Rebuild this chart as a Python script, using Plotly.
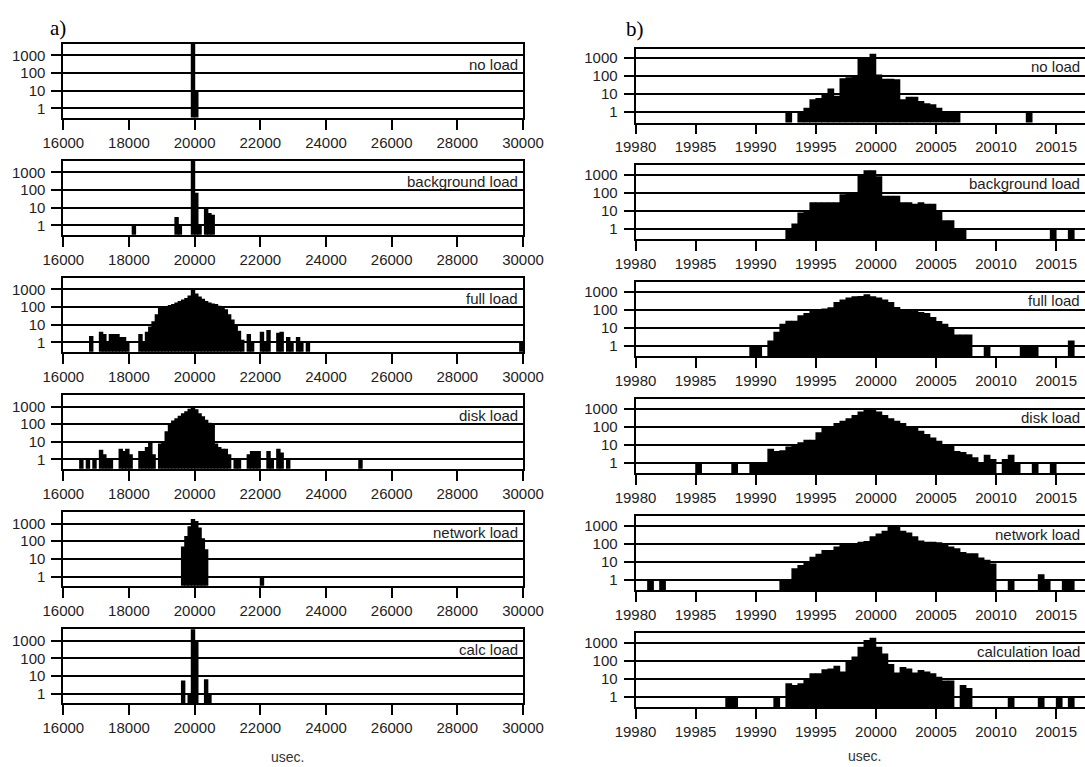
import plotly.graph_objects as go

# ---------------- data: left column (a), 100 usec bins, x = bin start ----------------
a_no_x = [19900, 20000]
a_no_y = [5000, 9]

a_bg_x = [18100, 19400, 19500, 19900, 20000, 20100, 20300, 20400, 20500]
a_bg_y = [1, 3, 1, 5000, 70, 1, 10, 5, 4]

a_full_x = [16800, 17100, 17200, 17300, 17400, 17500, 17600, 17700, 17800, 17900,
            18300, 18400, 18500, 18600, 18700, 18800, 18900, 19000, 19100, 19200,
            19300, 19400, 19500, 19600, 19700, 19800, 19900, 20000, 20100, 20200,
            20300, 20400, 20500, 20600, 20700, 20800, 20900, 21000, 21100, 21200,
            21300, 21400, 21600, 21700, 22000, 22100, 22200, 22500, 22600, 22800,
            22900, 23100, 23200, 23400, 29900]
a_full_y = [2.3, 4, 3, 1, 3, 3, 3, 2, 2, 1,
            3, 1, 4, 8, 16, 40, 100, 105, 110, 130,
            150, 180, 220, 270, 330, 450, 950, 600, 400, 300,
            220, 180, 160, 150, 120, 110, 75, 40, 20, 10,
            4.5, 1.4, 3, 1, 4, 1, 5, 3.5, 4, 2,
            1, 2, 1, 1, 1]

a_disk_x = [16500, 16700, 16900, 17100, 17200, 17300, 17400, 17700, 17800, 17900,
            18000, 18300, 18400, 18500, 18600, 18700, 18900, 19000, 19100, 19200,
            19300, 19400, 19500, 19600, 19700, 19800, 19900, 20000, 20100, 20200,
            20300, 20400, 20500, 20600, 20700, 20800, 20900, 21000, 21200, 21300,
            21600, 21700, 21800, 21900, 22200, 22300, 22500, 22600, 22800, 25000]
a_disk_y = [1, 1, 1, 3.5, 2, 1, 1, 4, 3, 4,
            2, 3, 3, 5, 9, 2, 8, 9, 40, 100,
            160, 220, 300, 420, 550, 750, 1000, 700, 420, 280,
            180, 120, 90, 8, 5, 4, 4, 2, 1, 1,
            2, 3, 3, 3, 3, 1, 4, 2.5, 1, 1]

a_net_x = [19600, 19700, 19800, 19900, 20000, 20100, 20200, 20300, 22000]
a_net_y = [50, 200, 700, 1800, 1400, 600, 150, 35, 1]

a_calc_x = [19600, 19800, 19900, 20000, 20300, 20400]
a_calc_y = [5.5, 1, 5000, 1000, 6.5, 1]

# ---------------- data: right column (b), 0.5 usec bins, x = bin start ----------------
b_no_x = [19992.5, 19993.5, 19994.0, 19994.5, 19995.0, 19995.5, 19996.0, 19996.5,
          19997.0, 19997.5, 19998.0, 19998.5, 19999.0, 19999.5, 20000.0, 20000.5,
          20001.0, 20001.5, 20002.0, 20002.5, 20003.0, 20003.5, 20004.0, 20004.5,
          20005.0, 20005.5, 20006.0, 20006.5, 20012.5]
b_no_y = [1, 1, 1.7, 5, 6, 11, 20, 8,
          75, 85, 90, 1000, 1100, 1700, 120, 70,
          70, 65, 5, 7, 7, 4, 3, 2.7,
          1.7, 1, 1, 1, 1]

b_bg_x = [19992.5, 19993.0, 19993.5, 19994.0, 19994.5, 19995.0, 19995.5, 19996.0,
          19996.5, 19997.0, 19997.5, 19998.0, 19998.5, 19999.0, 19999.5, 20000.0,
          20000.5, 20001.0, 20001.5, 20002.0, 20002.5, 20003.0, 20003.5, 20004.0,
          20004.5, 20005.0, 20005.5, 20006.0, 20006.5, 20007.0, 20014.5, 20016.0]
b_bg_y = [1, 2, 8, 10, 30, 30, 30, 30,
          30, 85, 105, 105, 1000, 1800, 1800, 850,
          70, 70, 70, 30, 30, 25, 30, 25,
          25, 9, 3, 3, 1, 1, 1, 1]

b_full_x = [19989.5, 19990.0, 19991.0, 19991.5, 19992.0, 19992.5, 19993.0, 19993.5,
            19994.0, 19994.5, 19995.0, 19995.5, 19996.0, 19996.5, 19997.0, 19997.5,
            19998.0, 19998.5, 19999.0, 19999.5, 20000.0, 20000.5, 20001.0, 20001.5,
            20002.0, 20002.5, 20003.0, 20003.5, 20004.0, 20004.5, 20005.0, 20005.5,
            20006.0, 20006.5, 20007.0, 20007.5, 20009.0, 20012.0, 20012.5, 20013.0,
            20016.0]
b_full_y = [1, 1, 2, 6, 17, 25, 25, 50,
            67, 95, 110, 120, 140, 270, 370, 480,
            560, 580, 730, 570, 480, 370, 270, 145,
            107, 100, 87, 75, 67, 40, 24, 17,
            11, 4.3, 4.3, 4.3, 1, 1, 1, 1,
            2]

b_disk_x = [19985.0, 19988.0, 19989.5, 19990.0, 19990.5, 19991.0, 19991.5, 19992.0,
            19992.5, 19993.0, 19993.5, 19994.0, 19994.5, 19995.0, 19995.5, 19996.0,
            19996.5, 19997.0, 19997.5, 19998.0, 19998.5, 19999.0, 19999.5, 20000.0,
            20000.5, 20001.0, 20001.5, 20002.0, 20002.5, 20003.0, 20003.5, 20004.0,
            20004.5, 20005.0, 20005.5, 20006.0, 20006.5, 20007.0, 20007.5, 20008.0,
            20008.5, 20009.0, 20009.5, 20010.5, 20011.0, 20011.5, 20013.0, 20014.5]
b_disk_y = [1, 1, 1, 1, 1, 6, 4.5, 5,
            8, 10, 14, 19, 19, 50, 90, 100,
            160, 215, 300, 450, 700, 1000, 1000, 700,
            450, 300, 215, 160, 100, 90, 60, 40,
            25, 17, 10, 10, 4.5, 4, 3, 2,
            1, 2.8, 1.6, 1.6, 2.8, 1, 1, 1]

b_net_x = [19981.0, 19982.0, 19992.0, 19992.5, 19993.0, 19993.5, 19994.0, 19994.5,
           19995.0, 19995.5, 19996.0, 19996.5, 19997.0, 19997.5, 19998.0, 19998.5,
           19999.0, 19999.5, 20000.0, 20000.5, 20001.0, 20001.5, 20002.0, 20002.5,
           20003.0, 20003.5, 20004.0, 20004.5, 20005.0, 20005.5, 20006.0, 20006.5,
           20007.0, 20007.5, 20008.0, 20008.5, 20009.0, 20009.5, 20011.0, 20013.5,
           20014.0, 20015.5, 20016.0]
b_net_y = [1, 1, 1, 1, 4.4, 6.5, 10, 19,
           28, 45, 45, 70, 110, 90, 100, 130,
           140, 260, 370, 530, 1000, 1000, 530, 420,
           260, 150, 130, 130, 120, 100, 70, 57,
           35, 30, 30, 17, 13, 8, 1, 2,
           1, 1, 1]

b_calc_x = [19987.5, 19988.0, 19991.5, 19992.5, 19993.0, 19993.5, 19994.0, 19994.5,
            19995.0, 19995.5, 19996.0, 19996.5, 19997.0, 19997.5, 19998.0, 19998.5,
            19999.0, 19999.5, 20000.0, 20000.5, 20001.0, 20001.5, 20002.0, 20002.5,
            20003.0, 20003.5, 20004.0, 20004.5, 20005.0, 20005.5, 20006.0, 20007.0,
            20007.5, 20011.0, 20013.5, 20015.0, 20016.0]
b_calc_y = [1, 1, 1, 5.5, 4.5, 5.5, 10, 20,
            20, 33, 37, 53, 25, 100, 170, 600,
            1400, 1900, 600, 250, 65, 22, 45, 37,
            22, 30, 25, 20, 13, 8, 8, 4.5,
            3, 1, 1, 1, 1]

a_labels = ["no load", "background load", "full load", "disk load", "network load", "calc load"]
b_labels = ["no load", "background load", "full load", "disk load", "network load", "calculation load"]
a_series = [(a_no_x, a_no_y), (a_bg_x, a_bg_y), (a_full_x, a_full_y),
            (a_disk_x, a_disk_y), (a_net_x, a_net_y), (a_calc_x, a_calc_y)]
b_series = [(b_no_x, b_no_y), (b_bg_x, b_bg_y), (b_full_x, b_full_y),
            (b_disk_x, b_disk_y), (b_net_x, b_net_y), (b_calc_x, b_calc_y)]

a_ticks = [16000, 18000, 20000, 22000, 24000, 26000, 28000, 30000]
b_ticks = [19980, 19985, 19990, 19995, 20000, 20005, 20010, 20015, 20020]
y_ticks = [1, 10, 100, 1000]
y_ticktext = ["1", "10", "100", "1000"]

# ---------------- layout geometry (pixels) ----------------
W, H = 1085, 767
def fx(p):
    return p / W
def fy(p):
    return 1 - p / H

cols = [
    dict(series=a_series, labels=a_labels, ticks=a_ticks, binw=100, overlap=0.35,
         x0=63.3, x1=523.0, top0=44.0, pitch=117.06, h=73.6,
         xr=[16000, 30000], yr=[-0.53, 3.645], mirror_y=True,
         lab_x=520.0, lab_dy=20.1),
    dict(series=b_series, labels=b_labels, ticks=b_ticks, binw=0.5, overlap=0.12,
         x0=635.5, x1=1085.0, top0=48.5, pitch=116.96, h=74.0,
         xr=[19980, 19980 + (1085 - 635.5) / 12.02], yr=[-0.589, 3.522], mirror_y=False,
         lab_x=1082.0, lab_dy=18.3),
]

TICKFONT = dict(family="Arial, 'Liberation Sans', sans-serif", size=15, color="#1e1e1e")
LW = 1.8

fig = go.Figure()
layout = {}
annotations = []
n = 0
for c in cols:
    for i, ((xs, ys), lab) in enumerate(zip(c["series"], c["labels"])):
        n += 1
        top = c["top0"] + c["pitch"] * i
        bot = top + c["h"]
        xa = "xaxis" if n == 1 else f"xaxis{n}"
        ya = "yaxis" if n == 1 else f"yaxis{n}"
        xid = "x" if n == 1 else f"x{n}"
        yid = "y" if n == 1 else f"y{n}"
        bw = c["binw"]
        ov = c["overlap"]  # bars drawn slightly wider than a bin so neighbouring bins fuse
        fig.add_trace(go.Bar(x=xs, y=ys, width=bw * (1 + ov), offset=-bw * ov / 2,
                             marker=dict(color="black", line=dict(width=0)),
                             xaxis=xid, yaxis=yid, hoverinfo="x+y"))
        layout[xa] = dict(domain=[fx(c["x0"]), fx(c["x1"])], anchor=yid, range=c["xr"],
                          tickmode="array", tickvals=c["ticks"],
                          ticktext=[str(t) for t in c["ticks"]],
                          ticks="outside", ticklen=10, tickwidth=LW, tickcolor="black",
                          showline=True, linecolor="black", linewidth=LW, mirror=True,
                          showgrid=False, zeroline=False, tickfont=TICKFONT,
                          automargin=False, fixedrange=True)
        layout[ya] = dict(domain=[fy(bot), fy(top)], anchor=xid, type="log", range=c["yr"],
                          tickmode="array", tickvals=y_ticks, ticktext=y_ticktext,
                          ticks="outside", ticklen=10, tickwidth=LW, tickcolor="black",
                          ticklabelstandoff=3,
                          showline=True, linecolor="black", linewidth=LW, mirror=c["mirror_y"],
                          showgrid=True, gridcolor="black", gridwidth=LW,
                          zeroline=False, tickfont=TICKFONT, automargin=False, fixedrange=True)
        annotations.append(dict(text=lab, xref="paper", yref="paper",
                                x=fx(c["lab_x"]), y=fy(top + c["lab_dy"]),
                                xanchor="right", yanchor="middle", showarrow=False,
                                font=TICKFONT))

SERIF = dict(family="'Liberation Serif', 'Times New Roman', serif", size=21, color="black")
annotations += [
    dict(text="a)", xref="paper", yref="paper", x=fx(48), y=fy(28), xanchor="left",
         yanchor="middle", showarrow=False, font=SERIF),
    dict(text="b)", xref="paper", yref="paper", x=fx(624), y=fy(29), xanchor="left",
         yanchor="middle", showarrow=False, font=SERIF),
    dict(text="usec.", xref="paper", yref="paper", x=fx(287), y=fy(757), xanchor="center",
         yanchor="middle", showarrow=False, font=dict(family=TICKFONT["family"], size=14, color="#333")),
    dict(text="usec.", xref="paper", yref="paper", x=fx(864), y=fy(756), xanchor="center",
         yanchor="middle", showarrow=False, font=dict(family=TICKFONT["family"], size=14, color="#333")),
]

fig.update_layout(width=W, height=H,
                  margin=dict(l=0, r=0, t=0, b=0, pad=0, autoexpand=False),
                  paper_bgcolor="white", plot_bgcolor="white", showlegend=False,
                  barmode="overlay", annotations=annotations, **layout)

fig.write_html("out.html")
